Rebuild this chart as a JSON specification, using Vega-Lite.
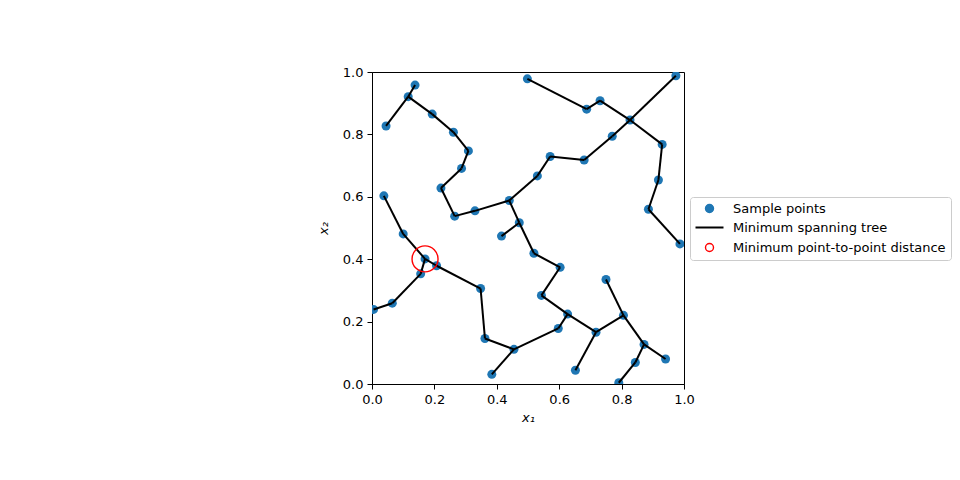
{
  "$schema": "https://vega.github.io/schema/vega-lite/v6.json",
  "width": 312,
  "height": 312,
  "autosize": {"type": "none"},
  "padding": {"left": 372, "top": 72, "right": 276, "bottom": 96},
  "background": "white",
  "config": {
    "view": {"stroke": "black", "strokeWidth": 1},
    "font": "DejaVu Sans",
    "axis": {
      "grid": false,
      "labelFlush": false,
      "domainColor": "black",
      "tickColor": "black",
      "tickSize": 5,
      "labelPadding": 4,
      "labelFontSize": 13,
      "labelColor": "black",
      "labelFont": "DejaVu Sans",
      "titleFont": "DejaVu Sans",
      "titleFontSize": 13,
      "titleFontWeight": "normal",
      "titleFontStyle": "italic",
      "titleColor": "black"
    },
    "legend": {
      "orient": "none",
      "legendX": 318,
      "legendY": 125,
      "padding": 5,
      "fillColor": "white",
      "strokeColor": "#cccccc",
      "cornerRadius": 3,
      "labelFont": "DejaVu Sans",
      "labelFontSize": 13,
      "labelColor": "black",
      "labelLimit": 400,
      "rowPadding": 5,
      "symbolOffset": 8,
      "labelOffset": 17
    }
  },
  "datasets": {
    "pts": [
      {"x": 0.138, "y": 0.958}, {"x": 0.116, "y": 0.921}, {"x": 0.045, "y": 0.827},
      {"x": 0.193, "y": 0.865}, {"x": 0.261, "y": 0.807}, {"x": 0.309, "y": 0.747},
      {"x": 0.287, "y": 0.691}, {"x": 0.221, "y": 0.628}, {"x": 0.265, "y": 0.538},
      {"x": 0.330, "y": 0.555}, {"x": 0.440, "y": 0.588}, {"x": 0.472, "y": 0.517},
      {"x": 0.415, "y": 0.474}, {"x": 0.530, "y": 0.667}, {"x": 0.571, "y": 0.729},
      {"x": 0.680, "y": 0.718}, {"x": 0.770, "y": 0.794}, {"x": 0.827, "y": 0.846},
      {"x": 0.974, "y": 0.988}, {"x": 0.498, "y": 0.978}, {"x": 0.688, "y": 0.881},
      {"x": 0.731, "y": 0.908}, {"x": 0.930, "y": 0.768}, {"x": 0.918, "y": 0.654},
      {"x": 0.886, "y": 0.560}, {"x": 0.987, "y": 0.449}, {"x": 0.038, "y": 0.603},
      {"x": 0.100, "y": 0.481}, {"x": 0.170, "y": 0.401}, {"x": 0.207, "y": 0.379},
      {"x": 0.156, "y": 0.353}, {"x": 0.065, "y": 0.259}, {"x": 0.005, "y": 0.239},
      {"x": 0.348, "y": 0.306}, {"x": 0.362, "y": 0.146}, {"x": 0.455, "y": 0.111},
      {"x": 0.384, "y": 0.031}, {"x": 0.519, "y": 0.419}, {"x": 0.603, "y": 0.374},
      {"x": 0.543, "y": 0.284}, {"x": 0.627, "y": 0.224}, {"x": 0.597, "y": 0.178},
      {"x": 0.718, "y": 0.166}, {"x": 0.750, "y": 0.335}, {"x": 0.806, "y": 0.220},
      {"x": 0.872, "y": 0.127}, {"x": 0.941, "y": 0.080}, {"x": 0.844, "y": 0.069},
      {"x": 0.791, "y": 0.004}, {"x": 0.652, "y": 0.044}
    ],
    "edges": [
      {"x": 0.138, "y": 0.958, "x2": 0.116, "y2": 0.921},
      {"x": 0.116, "y": 0.921, "x2": 0.045, "y2": 0.827},
      {"x": 0.116, "y": 0.921, "x2": 0.193, "y2": 0.865},
      {"x": 0.193, "y": 0.865, "x2": 0.261, "y2": 0.807},
      {"x": 0.261, "y": 0.807, "x2": 0.309, "y2": 0.747},
      {"x": 0.309, "y": 0.747, "x2": 0.287, "y2": 0.691},
      {"x": 0.287, "y": 0.691, "x2": 0.221, "y2": 0.628},
      {"x": 0.221, "y": 0.628, "x2": 0.265, "y2": 0.538},
      {"x": 0.265, "y": 0.538, "x2": 0.330, "y2": 0.555},
      {"x": 0.330, "y": 0.555, "x2": 0.440, "y2": 0.588},
      {"x": 0.440, "y": 0.588, "x2": 0.472, "y2": 0.517},
      {"x": 0.440, "y": 0.588, "x2": 0.530, "y2": 0.667},
      {"x": 0.472, "y": 0.517, "x2": 0.415, "y2": 0.474},
      {"x": 0.472, "y": 0.517, "x2": 0.519, "y2": 0.419},
      {"x": 0.519, "y": 0.419, "x2": 0.603, "y2": 0.374},
      {"x": 0.603, "y": 0.374, "x2": 0.543, "y2": 0.284},
      {"x": 0.543, "y": 0.284, "x2": 0.627, "y2": 0.224},
      {"x": 0.627, "y": 0.224, "x2": 0.597, "y2": 0.178},
      {"x": 0.627, "y": 0.224, "x2": 0.718, "y2": 0.166},
      {"x": 0.718, "y": 0.166, "x2": 0.652, "y2": 0.044},
      {"x": 0.718, "y": 0.166, "x2": 0.806, "y2": 0.220},
      {"x": 0.806, "y": 0.220, "x2": 0.750, "y2": 0.335},
      {"x": 0.806, "y": 0.220, "x2": 0.872, "y2": 0.127},
      {"x": 0.872, "y": 0.127, "x2": 0.941, "y2": 0.080},
      {"x": 0.872, "y": 0.127, "x2": 0.844, "y2": 0.069},
      {"x": 0.844, "y": 0.069, "x2": 0.791, "y2": 0.004},
      {"x": 0.597, "y": 0.178, "x2": 0.455, "y2": 0.111},
      {"x": 0.455, "y": 0.111, "x2": 0.362, "y2": 0.146},
      {"x": 0.455, "y": 0.111, "x2": 0.384, "y2": 0.031},
      {"x": 0.362, "y": 0.146, "x2": 0.348, "y2": 0.306},
      {"x": 0.348, "y": 0.306, "x2": 0.207, "y2": 0.379},
      {"x": 0.207, "y": 0.379, "x2": 0.170, "y2": 0.401},
      {"x": 0.170, "y": 0.401, "x2": 0.156, "y2": 0.353},
      {"x": 0.156, "y": 0.353, "x2": 0.065, "y2": 0.259},
      {"x": 0.065, "y": 0.259, "x2": 0.005, "y2": 0.239},
      {"x": 0.170, "y": 0.401, "x2": 0.100, "y2": 0.481},
      {"x": 0.100, "y": 0.481, "x2": 0.038, "y2": 0.603},
      {"x": 0.530, "y": 0.667, "x2": 0.571, "y2": 0.729},
      {"x": 0.571, "y": 0.729, "x2": 0.680, "y2": 0.718},
      {"x": 0.680, "y": 0.718, "x2": 0.770, "y2": 0.794},
      {"x": 0.770, "y": 0.794, "x2": 0.827, "y2": 0.846},
      {"x": 0.827, "y": 0.846, "x2": 0.731, "y2": 0.908},
      {"x": 0.731, "y": 0.908, "x2": 0.688, "y2": 0.881},
      {"x": 0.688, "y": 0.881, "x2": 0.498, "y2": 0.978},
      {"x": 0.827, "y": 0.846, "x2": 0.974, "y2": 0.988},
      {"x": 0.827, "y": 0.846, "x2": 0.930, "y2": 0.768},
      {"x": 0.930, "y": 0.768, "x2": 0.918, "y2": 0.654},
      {"x": 0.918, "y": 0.654, "x2": 0.886, "y2": 0.560},
      {"x": 0.886, "y": 0.560, "x2": 0.987, "y2": 0.449}
    ],
    "mind": [{"x": 0.170, "y": 0.401}]
  },
  "layer": [
    {
      "data": {"name": "pts"},
      "mark": {"type": "point", "shape": "circle", "filled": true, "size": 81, "opacity": 1, "clip": true},
      "encoding": {
        "x": {"field": "x", "type": "quantitative",
              "scale": {"domain": [0, 1], "nice": false, "zero": false},
              "axis": {"values": [0, 0.2, 0.4, 0.6, 0.8, 1.0], "format": ".1f", "title": "x₁", "titlePadding": 5}},
        "y": {"field": "y", "type": "quantitative",
              "scale": {"domain": [0, 1], "nice": false, "zero": false},
              "axis": {"values": [0, 0.2, 0.4, 0.6, 0.8, 1.0], "format": ".1f", "title": "x₂", "titlePadding": 12}},
        "color": {
          "datum": "Sample points", "type": "nominal",
          "scale": {"domain": ["Sample points", "Minimum spanning tree", "Minimum point-to-point distance"],
                    "range": ["#1f77b4", "black", "red"]},
          "legend": {
            "title": null,
            "encode": {
              "symbols": {
                "update": {
                  "shape": {"signal": "datum.value === 'Minimum spanning tree' ? 'stroke' : 'circle'"},
                  "size": {"signal": "datum.value === 'Minimum spanning tree' ? 784 : 64"},
                  "fill": {"signal": "datum.value === 'Sample points' ? '#1f77b4' : 'white'"},
                  "fillOpacity": {"signal": "datum.value === 'Sample points' ? 1 : 0"},
                  "stroke": {"signal": "datum.value === 'Sample points' ? 'transparent' : (datum.value === 'Minimum spanning tree' ? 'black' : 'red')"},
                  "strokeWidth": {"signal": "datum.value === 'Minimum spanning tree' ? 2 : 1.4"},
                  "opacity": {"value": 1}
                }
              }
            }
          }
        }
      }
    },
    {
      "data": {"name": "edges"},
      "mark": {"type": "rule", "strokeWidth": 2, "clip": true},
      "encoding": {
        "x": {"field": "x", "type": "quantitative"},
        "y": {"field": "y", "type": "quantitative"},
        "x2": {"field": "x2"},
        "y2": {"field": "y2"},
        "color": {"datum": "Minimum spanning tree", "type": "nominal",
          "legend": {
            "title": null,
            "encode": {
              "symbols": {
                "update": {
                  "shape": {"signal": "datum.value === 'Minimum spanning tree' ? 'stroke' : 'circle'"},
                  "size": {"signal": "datum.value === 'Minimum spanning tree' ? 784 : 64"},
                  "fill": {"signal": "datum.value === 'Sample points' ? '#1f77b4' : 'white'"},
                  "fillOpacity": {"signal": "datum.value === 'Sample points' ? 1 : 0"},
                  "stroke": {"signal": "datum.value === 'Sample points' ? 'transparent' : (datum.value === 'Minimum spanning tree' ? 'black' : 'red')"},
                  "strokeWidth": {"signal": "datum.value === 'Minimum spanning tree' ? 2 : 1.4"},
                  "opacity": {"value": 1}
                }
              }
            }
          }
        }
      }
    },
    {
      "data": {"name": "mind"},
      "mark": {"type": "point", "shape": "circle", "filled": false, "size": 676, "strokeWidth": 1.4, "opacity": 1, "clip": true},
      "encoding": {
        "x": {"field": "x", "type": "quantitative"},
        "y": {"field": "y", "type": "quantitative"},
        "color": {"datum": "Minimum point-to-point distance", "type": "nominal",
          "legend": {
            "title": null,
            "encode": {
              "symbols": {
                "update": {
                  "shape": {"signal": "datum.value === 'Minimum spanning tree' ? 'stroke' : 'circle'"},
                  "size": {"signal": "datum.value === 'Minimum spanning tree' ? 784 : 64"},
                  "fill": {"signal": "datum.value === 'Sample points' ? '#1f77b4' : 'white'"},
                  "fillOpacity": {"signal": "datum.value === 'Sample points' ? 1 : 0"},
                  "stroke": {"signal": "datum.value === 'Sample points' ? 'transparent' : (datum.value === 'Minimum spanning tree' ? 'black' : 'red')"},
                  "strokeWidth": {"signal": "datum.value === 'Minimum spanning tree' ? 2 : 1.4"},
                  "opacity": {"value": 1}
                }
              }
            }
          }
        }
      }
    }
  ]
}
